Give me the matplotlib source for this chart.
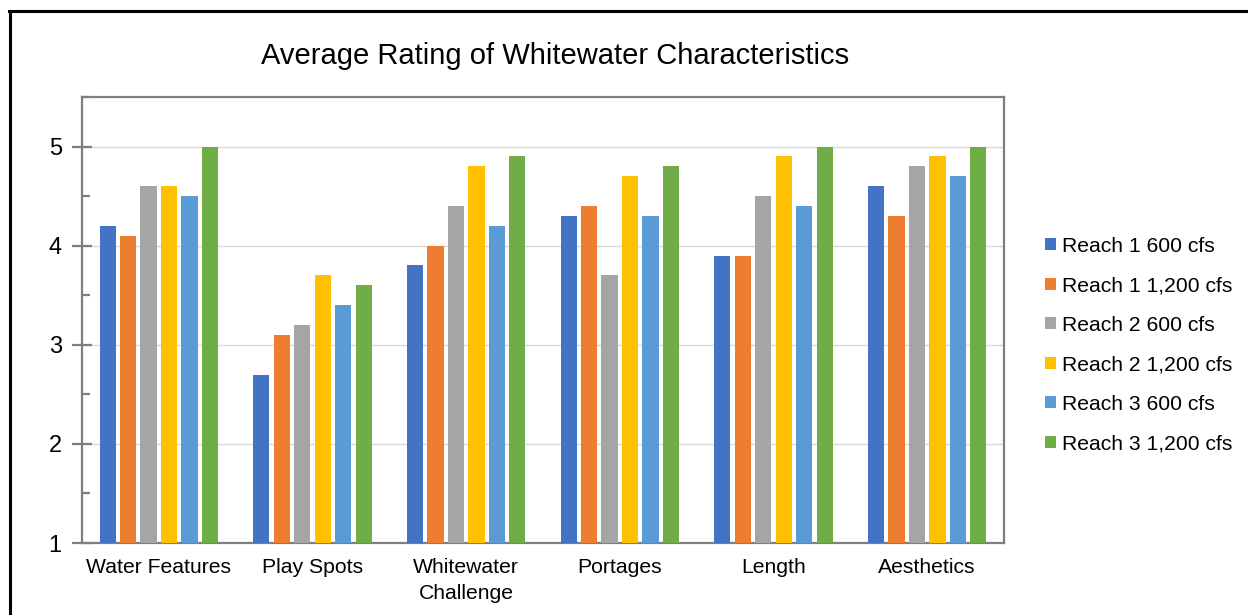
import matplotlib.pyplot as plt
import matplotlib.lines as mlines
import numpy as np

plt.rcParams['font.family'] = ['Liberation Sans', 'DejaVu Sans']

# categories and series
categories = ['Water Features', 'Play Spots', 'Whitewater\nChallenge',
              'Portages', 'Length', 'Aesthetics']
series_names = ['Reach 1 600 cfs', 'Reach 1 1,200 cfs', 'Reach 2 600 cfs',
                'Reach 2 1,200 cfs', 'Reach 3 600 cfs', 'Reach 3 1,200 cfs']
reach1_600 = [4.2, 2.7, 3.8, 4.3, 3.9, 4.6]
reach1_1200 = [4.1, 3.1, 4.0, 4.4, 3.9, 4.3]
reach2_600 = [4.6, 3.2, 4.4, 3.7, 4.5, 4.8]
reach2_1200 = [4.6, 3.7, 4.8, 4.7, 4.9, 4.9]
reach3_600 = [4.5, 3.4, 4.2, 4.3, 4.4, 4.7]
reach3_1200 = [5.0, 3.6, 4.9, 4.8, 5.0, 5.0]
y_ticks = [1, 2, 3, 4, 5]

series = [reach1_600, reach1_1200, reach2_600, reach2_1200, reach3_600, reach3_1200]
colors = ['#4472C4', '#ED7D31', '#A5A5A5', '#FFC000', '#5B9BD5', '#70AD47']

fig = plt.figure(figsize=(12.48, 6.15), dpi=100)
ax = fig.add_axes([82/1248, 1 - 543/615, 922/1248, 446/615])

x = np.arange(len(categories))
slot = 1 / 7.5
bar_w = slot * 0.79
for i, (vals, name, c) in enumerate(zip(series, series_names, colors)):
    offset = (i - 2.5) * slot
    ax.bar(x + offset, vals, width=bar_w, color=c, label=name, zorder=3)

ax.set_xlim(-0.5, len(categories) - 0.5)
ax.set_ylim(1, 5.5)
ax.set_yticks(y_ticks)
ax.set_yticks(np.arange(1.5, 5.51, 1.0), minor=True)
ax.set_xticks(x)
ax.set_xticklabels(categories, fontsize=15.2, linespacing=1.45)

ax.yaxis.grid(True, color='#d9d9d9', linewidth=1.0, zorder=0)
ax.set_axisbelow(True)

for sp in ax.spines.values():
    sp.set_color('#7f7f7f')
    sp.set_linewidth(1.6)

ax.tick_params(axis='y', which='major', direction='inout', length=14,
               width=1.6, color='#7f7f7f', labelsize=17, pad=7.5)
ax.tick_params(axis='y', which='minor', direction='in', length=6,
               width=1.6, color='#7f7f7f')
ax.tick_params(axis='x', length=0, pad=11)

fig.text(0.445, 1 - 56/615, 'Average Rating of Whitewater Characteristics',
         ha='center', va='center', fontsize=21)

leg = fig.legend(loc='center left', bbox_to_anchor=(1026/1248, 1 - 345/615),
                 frameon=False, fontsize=15.2, handlelength=0.5,
                 handleheight=0.5, handletextpad=0.3, labelspacing=0.97)

# outer frame of the figure box
fig.add_artist(mlines.Line2D([10/1248, 10/1248], [0, 1 - 11/615],
                             color='black', linewidth=2.2))
fig.add_artist(mlines.Line2D([9/1248, 1], [1 - 11/615, 1 - 11/615],
                             color='black', linewidth=2.2))

fig.savefig('out.png', dpi=100)
